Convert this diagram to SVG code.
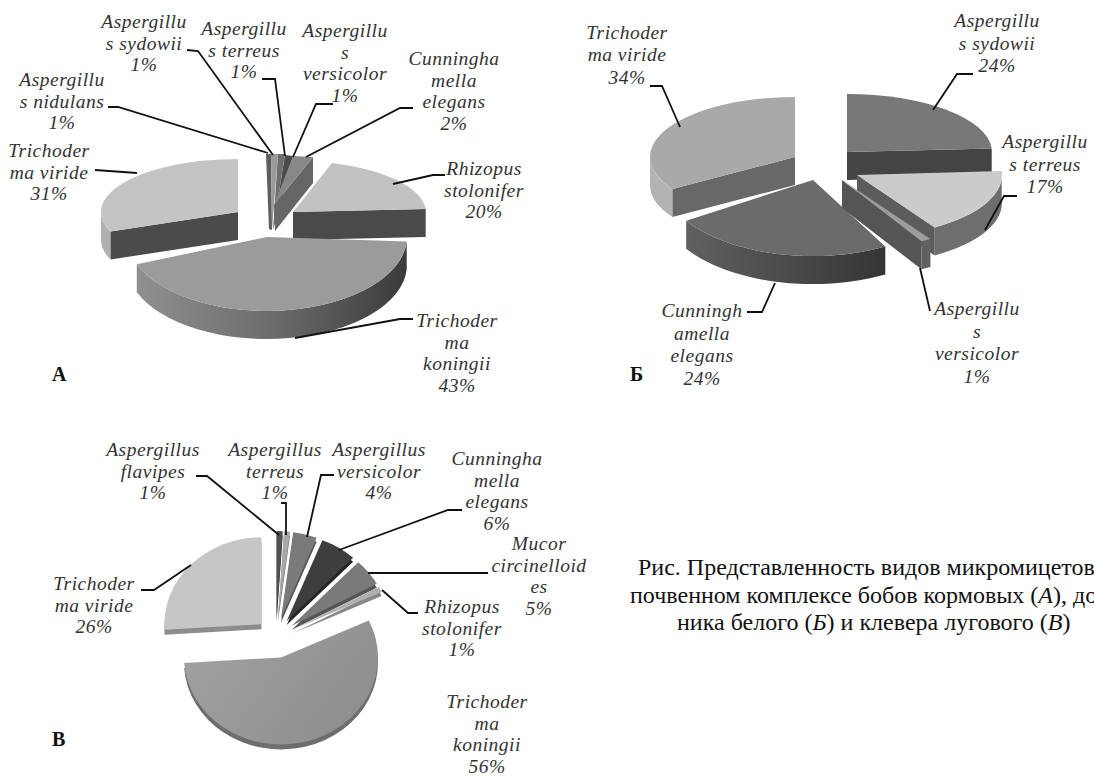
<svg xmlns="http://www.w3.org/2000/svg" width="1094" height="776" viewBox="0 0 1094 776">
<style>
.lbl{font-family:"Liberation Serif","Times New Roman",serif;font-style:italic;font-size:19.5px;letter-spacing:0.5px;fill:#333;text-anchor:middle}
.ld{fill:none;stroke:#111;stroke-width:1.8}
.pl{font-family:"Liberation Serif",serif;font-weight:bold;font-size:20px;fill:#111}
.cap{font-family:"Liberation Serif",serif;font-size:24px;fill:#111}
.it{font-style:italic}
</style>
<defs>
<linearGradient id="gAside" gradientUnits="userSpaceOnUse" x1="136" y1="0" x2="408" y2="0">
<stop offset="0" stop-color="#909090"/><stop offset="0.5" stop-color="#6c6c6c"/><stop offset="1" stop-color="#3a3a3a"/>
</linearGradient>
<linearGradient id="gBside" gradientUnits="userSpaceOnUse" x1="686" y1="0" x2="886" y2="0">
<stop offset="0" stop-color="#606060"/><stop offset="1" stop-color="#353535"/>
</linearGradient>
<linearGradient id="gCtop" gradientUnits="userSpaceOnUse" x1="190" y1="620" x2="370" y2="750">
<stop offset="0" stop-color="#a2a2a2"/><stop offset="1" stop-color="#8c8c8c"/>
</linearGradient>
</defs>
<rect width="1094" height="776" fill="#fff"/>

<!-- Chart A -->
<g id="A-viride">
<path d="M110.6,231.5 A137 53 0 0 1 101,212 L101,240 A137 53 0 0 0 110.6,259.5 Z" fill="#b0b0b0"/>
<path d="M238,212 L110.6,231.5 L110.6,259.5 L238,240 Z" fill="#4b4b4b"/>
<path d="M238,212 L110.6,231.5 A137 53 0 0 1 238,159 Z" fill="#c4c4c4"/>
<text class="lbl"><tspan x="49" y="157">Trichoder</tspan><tspan x="49" y="178.5">ma viride</tspan><tspan x="49" y="200">31%</tspan></text>
</g>
<g id="A-small">
<polygon points="266,154 271,154 272,230 269,229" fill="#5e5e5e"/>
<polygon points="271,154 278,154 272,230" fill="#9a9a9a"/>
<polygon points="278,154 285,154 273,230" fill="#6e6e6e"/>
<polygon points="285,155 293,156 273,230" fill="#4a4a4a"/>
<polygon points="313,157 313,183 275,231 274,205" fill="#666"/>
<polygon points="293,156 313,157 274,205" fill="#888"/>
<text class="lbl"><tspan x="62" y="86">Aspergillu</tspan><tspan x="62" y="107.5">s nidulans</tspan><tspan x="62" y="129">1%</tspan></text>
<text class="lbl"><tspan x="144" y="28">Aspergillu</tspan><tspan x="144" y="49.5">s sydowii</tspan><tspan x="144" y="71">1%</tspan></text>
<text class="lbl"><tspan x="244" y="35">Aspergillu</tspan><tspan x="244" y="56.5">s terreus</tspan><tspan x="244" y="78">1%</tspan></text>
<text class="lbl"><tspan x="345" y="37">Aspergillu</tspan><tspan x="345" y="58.5">s</tspan><tspan x="345" y="80">versicolor</tspan><tspan x="345" y="101.5">1%</tspan></text>
<text class="lbl"><tspan x="454" y="65">Cunningha</tspan><tspan x="454" y="86.5">mella</tspan><tspan x="454" y="108">elegans</tspan><tspan x="454" y="129.5">2%</tspan></text>
</g>
<g id="A-rhizopus">
<path d="M293,212 L425.7,209 L425.7,237 L293,240 Z" fill="#4a4a4a"/>
<path d="M293,212 L332,163 A133 52 0 0 1 425.7,209 Z" fill="#c2c2c2"/>
<text class="lbl"><tspan x="484" y="175">Rhizopus</tspan><tspan x="484" y="196.5">stolonifer</tspan><tspan x="484" y="218">20%</tspan></text>
</g>
<g id="A-koningii">
<path d="M406.7,241.6 A140 74 0 0 1 136.8,264.2 L136.8,292.2 A140 74 0 0 0 406.7,269.6 Z" fill="url(#gAside)"/>
<path d="M267,237 L406.7,241.6 A140 74 0 0 1 136.8,264.2 Z" fill="#9b9b9b"/>
<text class="lbl"><tspan x="457" y="327">Trichoder</tspan><tspan x="457" y="348.5">ma</tspan><tspan x="457" y="370">koningii</tspan><tspan x="457" y="391.5">43%</tspan></text>
</g>
<text class="pl" x="52" y="381">А</text>

<!-- Chart B -->
<g id="B-viride">
<path d="M672.5,189.1 A145 60 0 0 1 650,157 L650,185 A145 60 0 0 0 672.5,217.1 Z" fill="#b3b3b3"/>
<path d="M795,157 L672.5,189.1 L672.5,217.1 L795,185 Z" fill="#686868"/>
<path d="M795,157 L672.5,189.1 A145 60 0 0 1 795,97 Z" fill="#a9a9a9"/>
<text class="lbl"><tspan x="627" y="38.5">Trichoder</tspan><tspan x="627" y="61">ma viride</tspan><tspan x="627" y="83.5">34%</tspan></text>
</g>
<g id="B-sydowii">
<path d="M847,152 L991.7,148.4 L991.7,176.4 L847,180 Z" fill="#444"/>
<path d="M847,152 L847,94 A145 58 0 0 1 991.7,148.4 Z" fill="#787878"/>
<text class="lbl"><tspan x="997" y="27">Aspergillu</tspan><tspan x="997" y="49.5">s sydowii</tspan><tspan x="997" y="72">24%</tspan></text>
</g>
<g id="B-terreus">
<path d="M1001.7,171.1 A145 62 0 0 1 934.7,227.4 L934.7,255.4 A145 62 0 0 0 1001.7,199.1 Z" fill="#6e6e6e"/>
<path d="M857,175 L934.7,227.4 L934.7,255.4 L857,203 Z" fill="#5c5c5c"/>
<path d="M857,175 L1001.7,171.1 A145 62 0 0 1 934.7,227.4 Z" fill="#cbcbcb"/>
<text class="lbl"><tspan x="1045" y="148">Aspergillu</tspan><tspan x="1045" y="170.5">s terreus</tspan><tspan x="1045" y="193">17%</tspan></text>
</g>
<g id="B-cunninghamella">
<path d="M885.3,246.6 A150 76 0 0 1 686.2,220.7 L686.2,248.7 A150 76 0 0 0 885.3,274.6 Z" fill="url(#gBside)"/>
<path d="M813,180 L885.3,246.6 A150 76 0 0 1 686.2,220.7 Z" fill="#6b6b6b"/>
<text class="lbl"><tspan x="702" y="317">Cunningh</tspan><tspan x="702" y="339.5">amella</tspan><tspan x="702" y="362">elegans</tspan><tspan x="702" y="384.5">24%</tspan></text>
</g>
<g id="B-versicolor">
<path d="M842,180 L921.5,241.3 L921.5,269.3 L842,208 Z" fill="#555"/>
<path d="M930.4,239.1 L921.5,241.3 L921.5,269.3 L930.4,267.1 Z" fill="#606060"/>
<path d="M842,180 L930.4,239.1 A165 70 0 0 1 921.5,241.3 Z" fill="#9c9c9c"/>
<text class="lbl"><tspan x="977" y="315">Aspergillu</tspan><tspan x="977" y="337.5">s</tspan><tspan x="977" y="360">versicolor</tspan><tspan x="977" y="382.5">1%</tspan></text>
</g>
<text class="pl" x="630" y="381">Б</text>

<!-- Chart C -->
<g id="C-viride">
<path d="M261.4,629.3 L164.6,634.8 A97 87 0 0 1 261.4,542.3 Z" fill="#8c8c8c"/>
<path d="M261.4,624.3 L164.6,629.8 A97 87 0 0 1 261.4,537.3 Z" fill="#c6c6c6"/>
<text class="lbl"><tspan x="94" y="590">Trichoder</tspan><tspan x="94" y="611.5">ma viride</tspan><tspan x="94" y="633">26%</tspan></text>
</g>
<g id="C-small">
<path d="M276.6,622 L276.6,535 A97 87 0 0 1 282.7,535.2 Z" fill="#333"/>
<path d="M276.6,618 L276.6,531 A97 87 0 0 1 282.7,531.2 Z" fill="#505050"/>
<path d="M277.9,622.1 L284,535.3 A97 87 0 0 1 290.1,535.8 Z" fill="#7a7a7a"/>
<path d="M277.9,618.1 L284,531.3 A97 87 0 0 1 290.1,531.8 Z" fill="#a8a8a8"/>
<path d="M281,622.6 L293.2,536.3 A97 87 0 0 1 316.7,541.7 Z" fill="#555"/>
<path d="M281,618.6 L293.2,532.3 A97 87 0 0 1 316.7,537.7 Z" fill="#7a7a7a"/>
<path d="M286.7,625.1 L322.4,544.2 A97 87 0 0 1 353.1,561.7 Z" fill="#262626"/>
<path d="M286.7,621.1 L322.4,540.2 A97 87 0 0 1 353.1,557.7 Z" fill="#3e3e3e"/>
<path d="M291.8,629.7 L358.2,566.3 A97 87 0 0 1 376.8,587.8 Z" fill="#555"/>
<path d="M291.8,625.7 L358.2,562.3 A97 87 0 0 1 376.8,583.8 Z" fill="#7a7a7a"/>
<path d="M293.8,632.9 L378.8,591 A97 87 0 0 1 381.6,595.9 Z" fill="#888"/>
<path d="M293.8,628.9 L378.8,587 A97 87 0 0 1 381.6,591.9 Z" fill="#b0b0b0"/>
<text class="lbl"><tspan x="153" y="456">Aspergillus</tspan><tspan x="153" y="477.5">flavipes</tspan><tspan x="153" y="499">1%</tspan></text>
<text class="lbl"><tspan x="275" y="456">Aspergillus</tspan><tspan x="275" y="477.5">terreus</tspan><tspan x="275" y="499">1%</tspan></text>
<text class="lbl"><tspan x="379" y="456">Aspergillus</tspan><tspan x="379" y="477.5">versicolor</tspan><tspan x="379" y="499">4%</tspan></text>
<text class="lbl"><tspan x="497" y="465">Cunningha</tspan><tspan x="497" y="486.5">mella</tspan><tspan x="497" y="508">elegans</tspan><tspan x="497" y="529.5">6%</tspan></text>
<text class="lbl"><tspan x="539" y="550">Mucor</tspan><tspan x="539" y="571.5">circinelloid</tspan><tspan x="539" y="593">es</tspan><tspan x="539" y="614.5">5%</tspan></text>
<text class="lbl"><tspan x="462" y="613">Rhizopus</tspan><tspan x="462" y="634.5">stolonifer</tspan><tspan x="462" y="656">1%</tspan></text>
</g>
<g id="C-koningii">
<path d="M281,662.4 L368.8,625.4 A97 87 0 1 1 184.2,667.9 Z" fill="#6e6e6e"/>
<path d="M281,657.4 L368.8,620.4 A97 87 0 1 1 184.2,662.9 Z" fill="url(#gCtop)"/>
<text class="lbl"><tspan x="487" y="708">Trichoder</tspan><tspan x="487" y="729.5">ma</tspan><tspan x="487" y="751">koningii</tspan><tspan x="487" y="772.5">56%</tspan></text>
</g>
<text class="pl" x="52" y="746">В</text>

<!-- connectors -->
<g id="connectors">
<polyline class="ld" points="108,107 118,107 268,153"/>
<polyline class="ld" points="187,50 198,51 273,155"/>
<polyline class="ld" points="262,79 275,79 285,156"/>
<polyline class="ld" points="333,104 316,104 293,157"/>
<polyline class="ld" points="413,108 400,108 306,157"/>
<polyline class="ld" points="445,175 433,175 393,184"/>
<polyline class="ld" points="95,170 137,173"/>
<polyline class="ld" points="413,319 400,319 295,338"/>
<polyline class="ld" points="650,86 662,86 680,127"/>
<polyline class="ld" points="973,74 957,74 933,110"/>
<polyline class="ld" points="1017,196 1004,196 985,230"/>
<polyline class="ld" points="930,311 920,268"/>
<polyline class="ld" points="747,312 762,312 775,283"/>
<polyline class="ld" points="196,476 207,476 279,535"/>
<polyline class="ld" points="281,503 286,503 286,535"/>
<polyline class="ld" points="334,475 321,475 307,537"/>
<polyline class="ld" points="462,510 448,510 339,550"/>
<polyline class="ld" points="368,573 488,573"/>
<polyline class="ld" points="418,613 408,613 382,590"/>
<polyline class="ld" points="141,590 154,590 191,565"/>
</g>

<g id="caption">
<text class="cap" x="638" y="575">Рис. Представленность видов микромицетов</text>
<text class="cap" x="630" y="603">почвенном комплексе бобов кормовых (<tspan class="it">А</tspan>), до</text>
<text class="cap" x="677" y="630">ника белого (<tspan class="it">Б</tspan>) и клевера лугового (<tspan class="it">В</tspan>)</text>
</g>
</svg>
